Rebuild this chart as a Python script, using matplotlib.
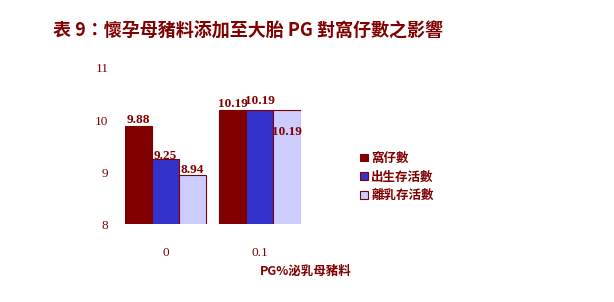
import matplotlib.pyplot as plt
import numpy as np

# 資料
grupos = ['0', '0.1']
series = ['窩仔數', '出生存活數', '離乳存活數']
valores = {
    '窩仔數': [9.88, 10.19],
    '出生存活數': [9.25, 10.19],
    '離乳存活數': [8.94, 10.19],
}
etiquetas_y = [8, 9, 10, 11]

colores = ['#800000', '#3333CC', '#CCCCFF']
rojo = '#800000'
cjk = ['Noto Sans CJK TC', 'DejaVu Sans']
serif = ['Liberation Serif', 'Noto Sans CJK TC']

fig = plt.figure(figsize=(6.14, 3.02), dpi=100)
ax = fig.add_axes([125 / 614, 1 - 224.3 / 302, 175.5 / 614, (224.3 - 68) / 302])

w = 0.287
x = np.arange(len(grupos))
for i, s in enumerate(series):
    ax.bar(x + (i - 1) * w, valores[s], w, bottom=0, color=colores[i],
           edgecolor=rojo, linewidth=0.8, label=s)

# etiquetas de valores
offs = [0.12, 0.07, 0.1]
for i, s in enumerate(series):
    for j, v in enumerate(valores[s]):
        yy = v + offs[i]
        if j == 1 and i == 2:
            yy = v - 0.42
        if j == 1 and i == 1:
            yy = v + 0.17
        ax.text(x[j] + (i - 1) * w, yy, f'{v:.2f}', ha='center', va='center',
                fontsize=9.5, fontweight='bold', color=rojo, family=serif)

ax.set_xlim(-1.5 * w, 1 + 1.5 * w)
ax.set_ylim(8, 11)
ax.set_yticks(etiquetas_y)
ax.set_xticks(x)
ax.set_xticklabels(grupos)
for sp in ax.spines.values():
    sp.set_visible(False)
ax.tick_params(length=0)
ax.tick_params(axis='y', pad=12, labelsize=9.5, labelcolor=rojo)
ax.tick_params(axis='x', pad=16, labelsize=9.5, labelcolor=rojo)
for t in ax.get_xticklabels() + ax.get_yticklabels():
    t.set_family(serif)

fig.text(53 / 614, 1 - 31 / 302, '表 9：懷孕母豬料添加至大胎 PG 對窩仔數之影響',
         fontsize=13, fontweight='bold', color=rojo, family=cjk, va='center')
fig.text(306 / 614, 1 - 271 / 302, 'PG%泌乳母豬料', fontsize=9,
         fontweight='bold', color=rojo, family=cjk, ha='center', va='center')

leg = ax.legend(loc='center left', bbox_to_anchor=(355 / 614, 1 - 177 / 302),
                bbox_transform=fig.transFigure, frameon=False,
                prop={'family': cjk, 'weight': 'bold', 'size': 9},
                handlelength=0.6, handleheight=0.6, handletextpad=0.3,
                labelspacing=0.45, borderaxespad=0)
for t in leg.get_texts():
    t.set_color(rojo)

fig.savefig('out.png', dpi=100)
